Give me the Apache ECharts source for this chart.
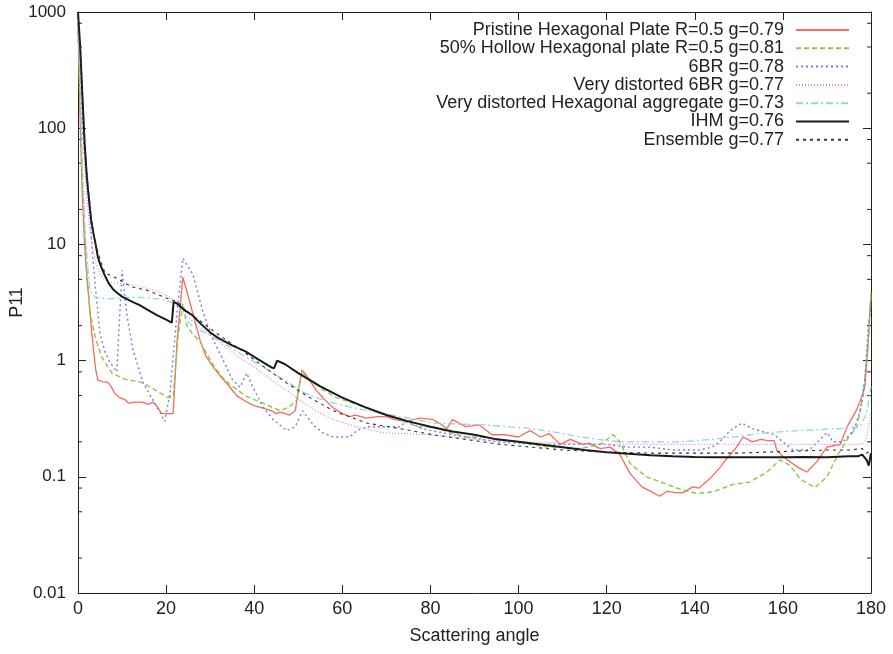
<!DOCTYPE html>
<html><head><meta charset="utf-8">
<script src="https://cdn.jsdelivr.net/npm/echarts/dist/echarts.min.js"></script>
<style>html,body{margin:0;padding:0;background:#fff}#c{width:893px;height:654px}</style>
</head><body><div id="c"></div>
<script>
const seriesNames = [
  'Pristine Hexagonal Plate R=0.5 g=0.79',
  '50% Hollow Hexagonal plate R=0.5 g=0.81',
  '6BR g=0.78',
  'Very distorted 6BR g=0.77',
  'Very distorted Hexagonal aggregate g=0.73',
  'IHM g=0.76',
  'Ensemble g=0.77'
];
const yTickLabels = ['0.01','0.1','1','10','100','1000'];
const minorMultipliers = [2,5,8];
const minorDecades = [0.01,0.1,1,10,100];

const pristine = [[0,800],[0.3,250],[0.6,80],[1,25],[1.5,10],[2,5.2],[2.5,3.3],[3,2.0],[3.5,1.25],[4,0.85],[4.5,0.68],[5.5,0.66],[6.8,0.65],[7.5,0.6],[8.4,0.52],[9.5,0.48],[10.7,0.46],[11.5,0.43],[13,0.44],[14.5,0.44],[16,0.42],[17,0.44],[18,0.4],[19,0.35],[20,0.35],[21.6,0.35],[22.5,1.5],[23.8,5.2],[25,3.6],[26,2.6],[27.7,1.5],[29,1.1],[30.7,0.88],[32.5,0.72],[34.5,0.59],[36,0.5],[38.3,0.44],[40,0.41],[42,0.39],[44,0.37],[45,0.35],[46,0.36],[48,0.34],[49.3,0.37],[50.8,0.83],[51.5,0.78],[54,0.56],[56,0.46],[58,0.39],[60,0.35],[61.7,0.33],[63,0.34],[65.5,0.32],[68,0.33],[70,0.33],[72,0.31],[74.6,0.30],[77.6,0.32],[80.6,0.31],[82,0.29],[83.7,0.26],[85,0.31],[86.5,0.29],[88,0.27],[91,0.28],[94,0.23],[97,0.23],[100,0.22],[102.6,0.25],[105,0.22],[107,0.235],[109.5,0.19],[111.7,0.21],[114.6,0.19],[116,0.195],[118.5,0.175],[120.8,0.18],[123,0.155],[125.3,0.107],[128,0.082],[130,0.075],[132,0.068],[133.7,0.075],[135.5,0.073],[137.3,0.073],[139.6,0.082],[141,0.08],[143.5,0.097],[145.7,0.12],[147,0.14],[149,0.17],[151,0.22],[153,0.2],[155,0.21],[156.5,0.205],[158,0.205],[158.6,0.17],[160,0.15],[161.6,0.135],[163.5,0.12],[165.5,0.11],[167.7,0.135],[170,0.18],[171.5,0.185],[173,0.19],[174.6,0.27],[176.8,0.38],[178,0.5],[178.6,0.59],[179.3,1.3],[180,3.8]];

const hollow = [[0,700],[0.5,150],[1,40],[1.5,14],[2,6],[2.7,2.6],[3.9,1.6],[5.4,1.07],[7.7,0.78],[10.7,0.69],[14.5,0.65],[17.5,0.56],[20.4,0.48],[21.6,0.49],[22.7,1.6],[23.8,3.1],[24.7,2.0],[26,1.7],[27.7,1.45],[30.7,0.92],[32.5,0.74],[34.5,0.62],[38.3,0.49],[42,0.43],[45.9,0.37],[48,0.40],[49.7,0.46],[50.8,0.8],[52,0.72],[55.6,0.56],[58.7,0.48],[61.7,0.44],[65.5,0.39],[69,0.35],[73,0.31],[77,0.27],[80.6,0.27],[84.4,0.24],[88,0.22],[92,0.22],[95.8,0.21],[99.6,0.2],[103,0.19],[107,0.18],[109.5,0.18],[114,0.175],[118.5,0.19],[121.5,0.23],[123,0.2],[125.3,0.13],[129,0.1],[133.7,0.086],[136.7,0.078],[140.5,0.072],[144,0.074],[148.7,0.086],[152.5,0.09],[156.4,0.11],[159.4,0.14],[161.6,0.125],[164,0.095],[167.3,0.081],[170,0.1],[172.3,0.15],[174.6,0.21],[176.8,0.27],[178.2,0.49],[179.3,1.3],[180,3.8]];

const br6 = [[0,900],[0.5,400],[1,100],[1.5,60],[2,40],[2.7,20],[3.2,9],[3.9,4.5],[5,1.7],[6.1,1.2],[7.3,0.96],[8.8,0.8],[10,6],[11,2.6],[12.5,1.23],[14.8,0.64],[17.9,0.4],[19.7,0.3],[20.9,0.53],[22.4,2.4],[23.8,7.6],[26,5.6],[28.4,2.6],[30.7,1.5],[33,1.0],[35,0.69],[36.8,0.59],[38.3,0.78],[39.7,0.59],[42,0.4],[44.3,0.31],[47.4,0.25],[49.3,0.27],[51,0.37],[53.4,0.28],[55.5,0.24],[58,0.22],[61.7,0.22],[63.3,0.25],[65.5,0.27],[70,0.27],[73,0.27],[74.7,0.30],[78,0.26],[85,0.23],[95,0.2],[105,0.19],[115,0.19],[120,0.19],[125,0.18],[130,0.18],[135,0.17],[141,0.17],[144,0.18],[145.7,0.2],[148,0.25],[150.7,0.29],[153,0.26],[158,0.23],[160,0.2],[162.3,0.17],[166,0.17],[169,0.22],[170,0.24],[171.4,0.2],[173.7,0.2],[176,0.25],[177.5,0.36],[178.6,0.69],[179.3,1.8],[180,3]];

const distorted6br = [[0,900],[0.5,300],[1,120],[1.5,50],[2,25],[3,11],[4,7],[5,5.5],[6,5],[7,4.7],[10,4.6],[14.5,4.3],[17.5,4.0],[19.7,3.7],[22,3.3],[24.7,2.4],[28,1.9],[32,1.45],[36,1.1],[40,0.88],[45,0.64],[50,0.47],[53.4,0.38],[58,0.31],[63.3,0.27],[69,0.24],[80,0.23],[90,0.21],[100,0.2],[110,0.195],[120,0.19],[130,0.19],[140,0.19],[150,0.19],[160,0.19],[170,0.19],[178,0.19],[179,0.22],[180,0.35]];

const aggregate = [[0,1000],[0.5,200],[1,40],[1.5,15],[2,8],[2.3,6],[2.7,4.0],[3.9,3.5],[6.8,3.4],[10.7,3.5],[14.5,3.5],[18,3.4],[20,3.3],[22,3.1],[24,2.4],[26,1.96],[30.7,1.6],[36,1.2],[42,0.88],[48,0.64],[50.4,0.55],[53.4,0.49],[58,0.43],[63,0.39],[69,0.35],[75,0.32],[80.6,0.29],[86,0.285],[92,0.28],[97,0.27],[103,0.26],[109,0.24],[114,0.22],[118,0.21],[123,0.2],[130,0.2],[136.7,0.2],[144,0.21],[148.7,0.22],[156.4,0.24],[164,0.25],[173,0.26],[177.5,0.27],[179,0.35],[180,0.6]];

const ihm = [[0,1000],[0.5,500],[1,190],[1.5,75],[2,38],[2.5,24],[3,16],[3.5,12.5],[4,10],[4.5,7.8],[5,6.8],[6,5.5],[7,4.6],[8,4.1],[9,3.8],[10,3.55],[12,3.25],[14,3.0],[16,2.7],[18,2.45],[20,2.25],[21.3,2.12],[21.7,3.2],[22.5,3.1],[24,2.75],[26,2.45],[28,2.05],[30,1.75],[32,1.55],[35,1.35],[38,1.2],[41,1.02],[44,0.87],[44.5,0.86],[45.2,1.0],[47,0.93],[50,0.78],[55,0.6],[60,0.48],[65,0.4],[70,0.34],[75,0.3],[80,0.27],[85,0.245],[90,0.23],[95,0.21],[100,0.2],[105,0.19],[110,0.18],[115,0.17],[120,0.163],[125,0.158],[130,0.153],[135,0.15],[140,0.148],[145,0.147],[150,0.147],[155,0.147],[160,0.147],[165,0.148],[170,0.147],[175,0.15],[177,0.15],[178,0.155],[179,0.14],[179.5,0.125],[180,0.16]];

const ensemble = [[0,1000],[0.5,500],[1,200],[1.5,80],[2,42],[3,17],[4,10],[5,7.5],[6.1,5.7],[8.4,5.2],[10,4.8],[12.3,4.3],[15.9,4.0],[19.7,3.5],[21.5,3.3],[23,3.1],[24,2.8],[27.7,2.2],[32,1.66],[36.8,1.25],[43,0.84],[47.4,0.64],[52.6,0.48],[58,0.37],[65.5,0.29],[73,0.26],[80.6,0.23],[88,0.21],[95.8,0.19],[103,0.18],[110,0.17],[120,0.163],[130,0.16],[140,0.16],[150,0.16],[160,0.165],[170,0.17],[175,0.17],[178,0.175],[179,0.16],[180,0.17]];

const seriesData = [pristine, hollow, br6, distorted6br, aggregate, ihm, ensemble];
const styles = [
  {color:'#f76a5c', width:1.3, type:'solid'},
  {color:'#86c84a', width:1.4, type:[5,3]},
  {color:'#7a78e6', width:1.4, type:[2,3]},
  {color:'#dc80dc', width:1.2, type:[1,2]},
  {color:'#8fd6e4', width:1.3, type:[7,3,2,3]},
  {color:'#1a1a1a', width:2, type:'solid'},
  {color:'#333333', width:1.1, type:[3,4]}
];

const minorTickValues = [];
minorDecades.forEach(d => minorMultipliers.forEach(m => minorTickValues.push([0, m * d])));

const chart = echarts.init(document.getElementById('c'), null, {renderer:'canvas'});
const axisColor = '#222';
const font = 'Liberation Sans, Arial, sans-serif';
const series = seriesNames.map((n, i) => ({
  type:'line', name:n, data:seriesData[i], showSymbol:false, symbol:'none',
  xAxisIndex:0, yAxisIndex:0, animation:false, silent:true,
  lineStyle:{color:styles[i].color, width:styles[i].width, type:styles[i].type},
  itemStyle:{color:styles[i].color}
}));
series.push({
  type:'custom', xAxisIndex:0, yAxisIndex:0, silent:true, animation:false,
  data:minorTickValues,
  renderItem:(params, api) => {
    const v = api.value(1);
    const pL = api.coord([0, v]);
    const pR = api.coord([180, v]);
    return {type:'group', children:[
      {type:'line', shape:{x1:pL[0], y1:pL[1], x2:pL[0]+4, y2:pL[1]}, style:{stroke:axisColor, lineWidth:1}},
      {type:'line', shape:{x1:pR[0]-4, y1:pR[1], x2:pR[0], y2:pR[1]}, style:{stroke:axisColor, lineWidth:1}}
    ]};
  }
});

const legends = seriesNames.map((n, i) => ({
  data:[n], orient:'vertical', right:43, top:21 + i * 18.3, align:'right',
  itemWidth:53, itemHeight:10, itemGap:0, padding:0, selectedMode:false,
  itemStyle:{color:'rgba(0,0,0,0)', borderColor:'rgba(0,0,0,0)', borderWidth:0, opacity:0},
  textStyle:{fontFamily:font, fontSize:18, color:'#222', padding:[0,7,0,0]}
}));

const option = {
  backgroundColor:'#fff',
  animation:false,
  grid:{left:78, right:22, top:12, bottom:61, containLabel:false, outerBoundsMode:'none'},
  legend:legends,
  xAxis:[
    {type:'value', min:0, max:180, interval:20, position:'bottom',
     axisLine:{show:true, onZero:false, lineStyle:{color:axisColor, width:1}},
     axisTick:{show:true, inside:true, length:8, lineStyle:{color:axisColor}},
     splitLine:{show:false},
     axisLabel:{show:true, margin:7, color:'#222', fontFamily:font, fontSize:18},
     name:'Scattering angle', nameLocation:'middle', nameGap:34,
     nameTextStyle:{color:'#222', fontFamily:font, fontSize:18}},
    {type:'value', min:0, max:180, interval:20, position:'top',
     axisLine:{show:true, onZero:false, lineStyle:{color:axisColor, width:1}},
     axisTick:{show:true, inside:true, length:8, lineStyle:{color:axisColor}},
     splitLine:{show:false}, axisLabel:{show:false}}
  ],
  yAxis:[
    {type:'log', logBase:10, min:0.01, max:1000, position:'left',
     axisLine:{show:true, onZero:false, lineStyle:{color:axisColor, width:1}},
     axisTick:{show:true, inside:true, length:8, lineStyle:{color:axisColor}},
     splitLine:{show:false}, minorTick:{show:false},
     axisLabel:{show:true, margin:12, color:'#222', fontFamily:font, fontSize:17,
       formatter:v => yTickLabels[Math.round(Math.log10(v)) + 2]},
     name:'P11', nameLocation:'middle', nameGap:52, nameRotate:90, nameMoveOverlap:false,
     nameTextStyle:{color:'#222', fontFamily:font, fontSize:18}},
    {type:'log', logBase:10, min:0.01, max:1000, position:'right',
     axisLine:{show:true, onZero:false, lineStyle:{color:axisColor, width:1}},
     axisTick:{show:true, inside:true, length:8, lineStyle:{color:axisColor}},
     splitLine:{show:false}, axisLabel:{show:false}}
  ],
  series:series
};
chart.setOption(option);
</script></body></html>
